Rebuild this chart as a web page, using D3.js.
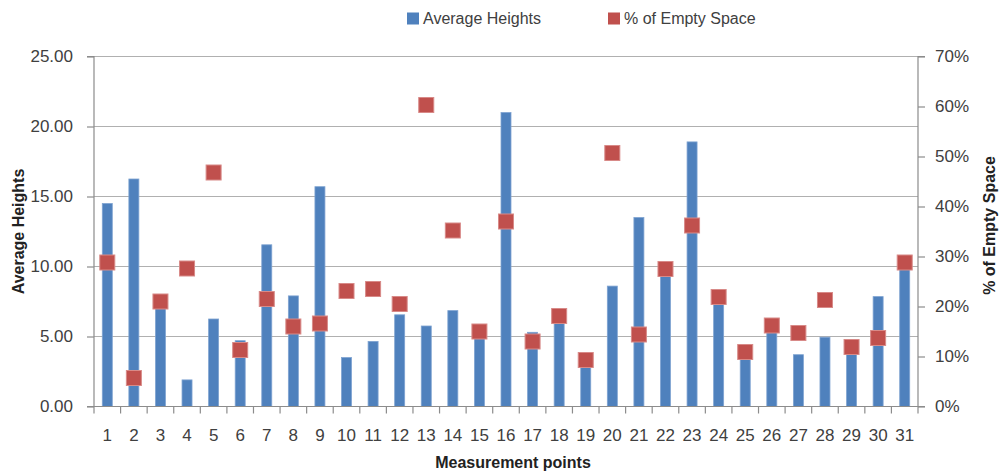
<!DOCTYPE html>
<html>
<head>
<meta charset="utf-8">
<script src="https://cdn.jsdelivr.net/npm/d3@7"></script>
<style>
  html, body { margin: 0; padding: 0; background: #fff; }
  svg { display: block; font-family: "Liberation Sans", Arial, sans-serif; }
</style>
</head>
<body>
<svg id="chart" width="1001" height="472"></svg>
<script>
// Measurement points along the x axis
const points = d3.range(1, 32).map(String);

// Average height at each measurement point (left axis)
const averageHeights = [
  14.5, 16.25, 7.1, 1.9, 6.25, 4.7, 11.55, 7.9, 15.7, 3.5,
  4.65, 6.55, 5.75, 6.85, 5.0, 21.0, 5.3, 6.1, 3.2, 8.6,
  13.5, 9.6, 18.9, 7.5, 3.6, 5.5, 3.7, 4.95, 4.2, 7.85, 10.0
];

// Share of empty space at each measurement point (right axis)
const emptySpace = [
  0.288, 0.057, 0.210, 0.276, 0.468, 0.113, 0.215, 0.160, 0.166, 0.231,
  0.235, 0.205, 0.603, 0.352, 0.150, 0.370, 0.130, 0.181, 0.093, 0.507,
  0.144, 0.275, 0.362, 0.219, 0.109, 0.162, 0.147, 0.213, 0.119, 0.137, 0.288
];

const leftTicks = [0, 5, 10, 15, 20, 25];
const rightTicks = [0, 0.1, 0.2, 0.3, 0.4, 0.5, 0.6, 0.7];

const seriesNames = ["Average Heights", "% of Empty Space"];
const seriesColors = ["#4F81BD", "#C0504D"];

const plot = { left: 94, right: 918, top: 56.5, bottom: 406.5 };

const svg = d3.select("#chart");
svg.append("rect").attr("width", 1001).attr("height", 472).attr("fill", "#fff");

const x = d3.scaleBand().domain(points).range([plot.left, plot.right]).padding(0);
const yLeft = d3.scaleLinear().domain([0, 25]).range([plot.bottom, plot.top]);
const yRight = d3.scaleLinear().domain([0, 0.7]).range([plot.bottom, plot.top]);

const axisColor = "#8c8c8c";
const textColor = "#404040";

// Horizontal gridlines at the left-axis ticks
svg.append("g")
  .selectAll("line")
  .data(leftTicks.filter(d => d > 0))
  .join("line")
  .attr("x1", plot.left).attr("x2", plot.right)
  .attr("y1", d => yLeft(d)).attr("y2", d => yLeft(d))
  .attr("stroke", "#b0b0b0").attr("stroke-width", 1.2);

// Bars
const barW = 10;
svg.append("g")
  .selectAll("rect")
  .data(points)
  .join("rect")
  .attr("x", (d) => x(d) + (x.bandwidth() - barW) / 2)
  .attr("width", barW)
  .attr("y", (d, i) => yLeft(averageHeights[i]))
  .attr("height", (d, i) => yLeft(0) - yLeft(averageHeights[i]))
  .attr("fill", seriesColors[0])
  .attr("stroke", "#7fa3d1").attr("stroke-width", 0.8);

// Left axis
const gLeft = svg.append("g")
  .attr("transform", `translate(${plot.left},0)`)
  .call(d3.axisLeft(yLeft).tickValues(leftTicks).tickFormat(d3.format(".2f")).tickSize(7).tickPadding(14));

// Right axis
const gRight = svg.append("g")
  .attr("transform", `translate(${plot.right},0)`)
  .call(d3.axisRight(yRight).tickValues(rightTicks).tickFormat(d3.format(".0%")).tickSize(7).tickPadding(10));

// Bottom axis: labels centered in each band, ticks on the band boundaries
const gBottom = svg.append("g")
  .attr("transform", `translate(0,${plot.bottom})`)
  .call(d3.axisBottom(x).tickSize(0).tickPadding(22));

svg.append("g")
  .selectAll("line")
  .data(points.map(p => x(p)).concat([plot.right]))
  .join("line")
  .attr("x1", d => d).attr("x2", d => d)
  .attr("y1", plot.bottom).attr("y2", plot.bottom + 7)
  .attr("stroke", axisColor).attr("stroke-width", 1.2);

[gLeft, gRight, gBottom].forEach(g => {
  g.select(".domain").attr("stroke", axisColor).attr("stroke-width", 1.2);
  g.selectAll(".tick line").attr("stroke", axisColor).attr("stroke-width", 1.2);
  g.selectAll(".tick text")
    .attr("fill", textColor)
    .style("font-size", "17px")
    .style("font-family", "'Liberation Sans', Arial, sans-serif");
});
gLeft.select(".domain").attr("d", `M-7,${plot.top}H0V${plot.bottom}H-7`);
gRight.select(".domain").attr("d", `M7,${plot.top}H0V${plot.bottom}H7`);
gBottom.select(".domain").attr("d", `M${plot.left},0H${plot.right}`);

// Square markers for the empty-space series
const mk = 15;
svg.append("g")
  .selectAll("rect")
  .data(points)
  .join("rect")
  .attr("x", d => x(d) + x.bandwidth() / 2 - mk / 2)
  .attr("y", (d, i) => yRight(emptySpace[i]) - mk / 2)
  .attr("width", mk).attr("height", mk)
  .attr("fill", seriesColors[1])
  .attr("stroke", "#d88a88").attr("stroke-width", 1);

// Axis titles
svg.append("text")
  .attr("transform", `translate(24,${(plot.top + plot.bottom) / 2}) rotate(-90)`)
  .attr("text-anchor", "middle")
  .attr("font-weight", "bold").attr("font-size", 16)
  .attr("fill", "#222")
  .text("Average Heights");

svg.append("text")
  .attr("transform", `translate(995,${(plot.top + plot.bottom) / 2 - 6}) rotate(-90)`)
  .attr("text-anchor", "middle")
  .attr("font-weight", "bold").attr("font-size", 16)
  .attr("fill", "#222")
  .text("% of Empty Space");

svg.append("text")
  .attr("x", 513).attr("y", 468)
  .attr("text-anchor", "middle")
  .attr("font-weight", "bold").attr("font-size", 16)
  .attr("fill", "#222")
  .text("Measurement points");

// Legend
const legend = svg.append("g");
const legendX = [407, 608];
seriesNames.forEach((name, i) => {
  legend.append("rect")
    .attr("x", legendX[i]).attr("y", 12.5)
    .attr("width", 12).attr("height", 12)
    .attr("fill", seriesColors[i]);
  legend.append("text")
    .attr("x", legendX[i] + 16).attr("y", 24)
    .attr("font-size", 16)
    .attr("fill", textColor)
    .text(name);
});
</script>
</body>
</html>
